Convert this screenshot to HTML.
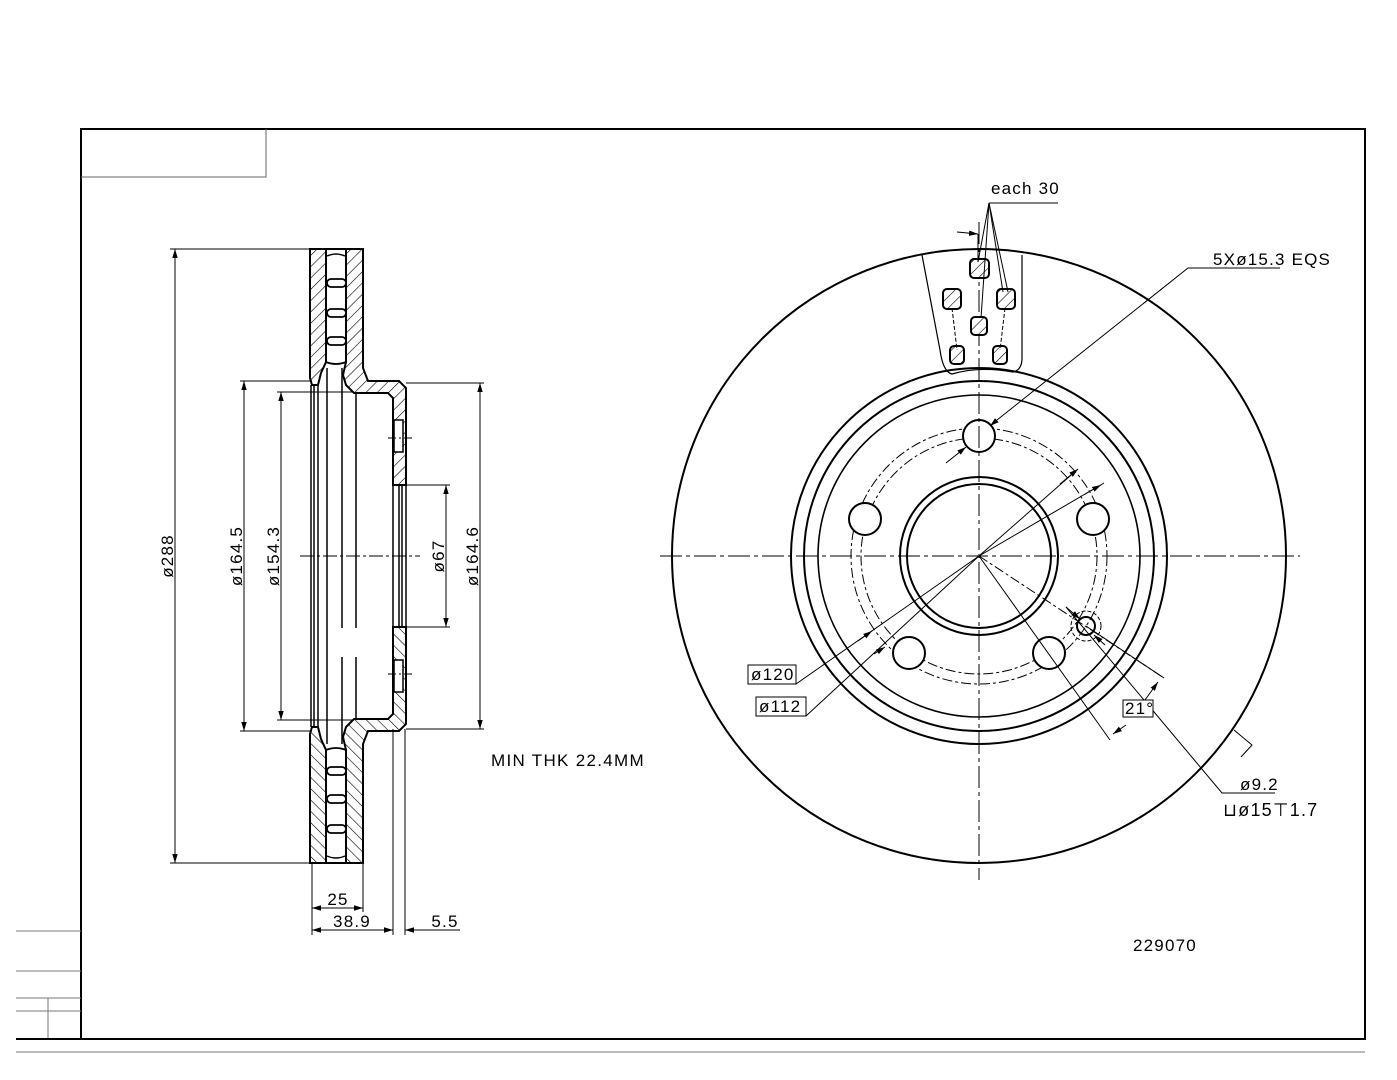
<!DOCTYPE html>
<html><head><meta charset="utf-8"><style>
html,body{margin:0;padding:0;background:#fff}
svg{display:block}
text{font-family:"Liberation Sans","DejaVu Sans",sans-serif;fill:#000;letter-spacing:1.2px}
</style></head><body>
<svg width="1397" height="1080" viewBox="0 0 1397 1080" xmlns="http://www.w3.org/2000/svg">
<defs>
<pattern id="h" width="8" height="8" patternUnits="userSpaceOnUse" patternTransform="rotate(45)">
<rect width="8" height="8" fill="#fff"/><line x1="0" y1="0" x2="0" y2="8" stroke="#000" stroke-width="1.2"/></pattern>
<marker id="a" viewBox="0 0 10 10" refX="10" refY="5" markerWidth="9" markerHeight="9" orient="auto-start-reverse" markerUnits="userSpaceOnUse"><path d="M0,2 L10,5 L0,8z" fill="#000"/></marker>
<g id="half">
<path d="M310,249 L326,249 L326,362 L321,373 L318,385 L312,385 L310,378Z" fill="url(#h)" stroke="#000" stroke-width="2"/>
<path d="M346,249 L363,249 L363,368 L368,381 L399,381 L406,388 L406,485 L393,485 L393,398 L388,393 L354,393 L346,385 L343,375 L346,362Z" fill="url(#h)" stroke="#000" stroke-width="2"/>
<rect x="394" y="420" width="9" height="32" fill="#fff" stroke="#000" stroke-width="1.5"/>
<line x1="388" y1="438" x2="412" y2="438" stroke="#000" stroke-width="1" stroke-dasharray="8 3 2 3"/>
<line x1="326" y1="249" x2="346" y2="249" stroke="#000" stroke-width="2"/>
<g fill="#fff" stroke="#000" stroke-width="1.8">
<rect x="327" y="279" width="19" height="8" rx="4"/>
<rect x="327" y="309" width="19" height="8" rx="4"/>
<rect x="327" y="337" width="19" height="8" rx="4"/>
</g>
<path d="M326,362 Q336,366 346,362" fill="none" stroke="#000" stroke-width="1.8"/>
<path d="M327,256 Q336,252 345,256" fill="none" stroke="#000" stroke-width="1.5"/>
<g stroke="#000" stroke-width="1.5">
<line x1="311" y1="385" x2="311" y2="556"/><line x1="314" y1="385" x2="314" y2="556"/>
<line x1="318" y1="385" x2="318" y2="556"/><line x1="327" y1="368" x2="327" y2="556"/>
<line x1="342" y1="368" x2="342" y2="556"/><line x1="356" y1="393" x2="356" y2="556"/>
<line x1="393" y1="485" x2="393" y2="556"/><line x1="399" y1="485" x2="399" y2="556"/>
<line x1="402" y1="485" x2="402" y2="556"/><line x1="406" y1="485" x2="406" y2="556"/>
</g>
</g>
</defs>
<g stroke="#000" fill="none">
<rect x="81" y="129" width="1284" height="910" stroke-width="2"/>
<polyline points="81,177 266,177 266,129" stroke-width="1" stroke="#666"/>
<g stroke="#777" stroke-width="1"><line x1="16" y1="931" x2="81" y2="931"/><line x1="16" y1="971" x2="81" y2="971"/><line x1="16" y1="998" x2="81" y2="998"/><line x1="16" y1="1011" x2="81" y2="1011"/><line x1="48" y1="998" x2="48" y2="1039"/><line x1="16" y1="1052" x2="1365" y2="1052"/></g>
<line x1="16" y1="1039" x2="81" y2="1039" stroke-width="2"/>
</g>
<use href="#half"/>
<use href="#half" transform="matrix(1 0 0 -1 0 1112)"/>
<rect x="340" y="628" width="4" height="29" fill="#fff"/>
<rect x="354" y="628" width="4" height="29" fill="#fff"/>
<line x1="300" y1="556" x2="420" y2="556" stroke="#000" stroke-width="1" stroke-dasharray="14 3 3 3"/>
<g stroke="#000" stroke-width="1" fill="none">
<line x1="170" y1="249" x2="310" y2="249"/><line x1="170" y1="863" x2="310" y2="863"/>
<line x1="175" y1="249" x2="175" y2="863" marker-start="url(#a)" marker-end="url(#a)"/>
<line x1="240" y1="381" x2="312" y2="381"/><line x1="240" y1="731" x2="312" y2="731"/>
<line x1="244" y1="381" x2="244" y2="731" marker-start="url(#a)" marker-end="url(#a)"/>
<line x1="277" y1="392" x2="352" y2="392"/><line x1="277" y1="720" x2="352" y2="720"/>
<line x1="281" y1="392" x2="281" y2="720" marker-start="url(#a)" marker-end="url(#a)"/>
<line x1="406" y1="485" x2="450" y2="485"/><line x1="406" y1="627" x2="450" y2="627"/>
<line x1="446" y1="485" x2="446" y2="627" marker-start="url(#a)" marker-end="url(#a)"/>
<line x1="406" y1="383" x2="484" y2="383"/><line x1="406" y1="729" x2="484" y2="729"/>
<line x1="480" y1="383" x2="480" y2="729" marker-start="url(#a)" marker-end="url(#a)"/>
<line x1="312" y1="863" x2="312" y2="935"/><line x1="363" y1="863" x2="363" y2="912"/>
<line x1="393" y1="729" x2="393" y2="935"/><line x1="405" y1="729" x2="405" y2="935"/>
<line x1="312" y1="908" x2="363" y2="908" marker-start="url(#a)" marker-end="url(#a)"/>
<line x1="312" y1="930" x2="393" y2="930" marker-start="url(#a)" marker-end="url(#a)"/>
<line x1="460" y1="930" x2="405" y2="930" marker-end="url(#a)"/>
</g>
<g font-size="17">
<text transform="translate(173,556) rotate(-90)" text-anchor="middle">ø288</text>
<text transform="translate(242,556) rotate(-90)" text-anchor="middle">ø164.5</text>
<text transform="translate(279,556) rotate(-90)" text-anchor="middle">ø154.3</text>
<text transform="translate(444,556) rotate(-90)" text-anchor="middle">ø67</text>
<text transform="translate(478,556) rotate(-90)" text-anchor="middle">ø164.6</text>
<text x="338" y="905" text-anchor="middle">25</text>
<text x="352" y="927" text-anchor="middle">38.9</text>
<text x="445" y="927" text-anchor="middle">5.5</text>
</g>
<text x="491" y="766" font-family="'Liberation Serif',serif" font-size="17" style="letter-spacing:1.3px">MIN THK 22.4MM</text>
<g stroke="#000" fill="none">
<circle cx="979" cy="556" r="307" stroke-width="2"/>
<circle cx="979" cy="556" r="188" stroke-width="2"/>
<circle cx="979" cy="556" r="175" stroke-width="2"/>
<circle cx="979" cy="556" r="161" stroke-width="1.6"/>
<circle cx="979" cy="556" r="128" stroke-width="1" stroke-dasharray="10 3 3 3"/>
<circle cx="979" cy="556" r="118" stroke-width="1" stroke-dasharray="10 3 3 3"/>
<circle cx="979" cy="556" r="79" stroke-width="2"/>
<circle cx="979" cy="556" r="72" stroke-width="2"/>
<g stroke-width="2" fill="#fff">
<circle cx="979" cy="436" r="16"/><circle cx="1093" cy="519" r="16"/><circle cx="865" cy="519" r="16"/>
<circle cx="1049" cy="653" r="16"/><circle cx="909" cy="653" r="16"/>
</g>
<circle cx="1086" cy="626" r="15" stroke-width="1" stroke-dasharray="4 2"/>
<circle cx="1086" cy="626" r="9" stroke-width="2"/>
<g stroke-width="1" stroke-dasharray="22 4 4 4">
<line x1="660" y1="556" x2="1300" y2="556"/><line x1="979" y1="222" x2="979" y2="880"/>
</g>
<path d="M922,255 L940,350 Q943,372 952,374 Q979,366 1013,372 Q1022,370 1022,358 L1022,255" stroke-width="1.2"/>
<g stroke-width="2" fill="url(#h)">
<rect x="970" y="259" width="19" height="19" rx="4"/><rect x="943" y="289" width="18" height="20" rx="4"/>
<rect x="997" y="289" width="18" height="20" rx="4"/><rect x="971" y="317" width="16" height="18" rx="4"/>
<rect x="950" y="346" width="14" height="18" rx="4"/><rect x="993" y="346" width="14" height="18" rx="4"/>
</g>
<g stroke-width="1">
<line x1="989" y1="203" x2="1058" y2="203"/>
<line x1="989" y1="203" x2="978" y2="262"/><line x1="989" y1="203" x2="981" y2="318"/>
<line x1="989" y1="203" x2="1003" y2="292"/><line x1="989" y1="203" x2="1008" y2="292"/>
<line x1="957" y1="232" x2="978" y2="234" marker-end="url(#a)"/>
<line x1="978" y1="234" x2="978" y2="262"/>
<line x1="952" y1="308" x2="957" y2="350" stroke-dasharray="4 2"/>
<line x1="1005" y1="308" x2="1000" y2="350" stroke-dasharray="4 2"/>
<polyline points="1280,268 1188,268 997,420" />
<line x1="997" y1="420" x2="990" y2="426" marker-end="url(#a)"/>
<line x1="946" y1="463" x2="966" y2="447" marker-end="url(#a)"/>
<polyline points="750,684 796,684 979,556 1078,469"/>
<line x1="1060" y1="484" x2="1078" y2="469" marker-end="url(#a)"/>
<line x1="872" y1="631" x2="858" y2="641" marker-start="url(#a)"/>
<polyline points="756,716 806,716 979,556 1104,483"/>
<line x1="1085" y1="494" x2="1101" y2="485" marker-end="url(#a)"/>
<line x1="885" y1="647" x2="874" y2="654" marker-start="url(#a)"/>
<line x1="979" y1="556" x2="1110" y2="740"/>
<line x1="979" y1="556" x2="1164" y2="678" stroke-dasharray="10 3 3 3"/>
<line x1="1164" y1="678" x2="1086" y2="626"/>
<line x1="1113" y1="734" x2="1126" y2="725" marker-start="url(#a)"/>
<line x1="1145" y1="700" x2="1158" y2="682" marker-end="url(#a)"/>
<line x1="1066" y1="607" x2="1080" y2="619" marker-end="url(#a)"/>
<line x1="1105" y1="645" x2="1094" y2="635" marker-end="url(#a)"/>
<polyline points="1066,607 1222,793 1275,793"/>
<polyline points="1234,730 1252,745 1241,757"/>
</g>
<rect x="748" y="665" width="48" height="19" stroke-width="1"/>
<rect x="756" y="697" width="50" height="19" stroke-width="1"/>
<rect x="1123" y="700" width="30" height="17" fill="#fff" stroke-width="1"/>
</g>
<g font-size="17">
<text x="991" y="194">each 30</text>
<text x="1213" y="265">5Xø15.3  EQS</text>
<text x="751" y="680">ø120</text>
<text x="759" y="712">ø112</text>
<text x="1125" y="714">21°</text>
<text x="1240" y="790">ø9.2</text>
<text x="1223" y="816" font-size="18">⊔ø15⊤1.7</text>
<text x="1133" y="951">229070</text>
</g>
</svg>
</body></html>
